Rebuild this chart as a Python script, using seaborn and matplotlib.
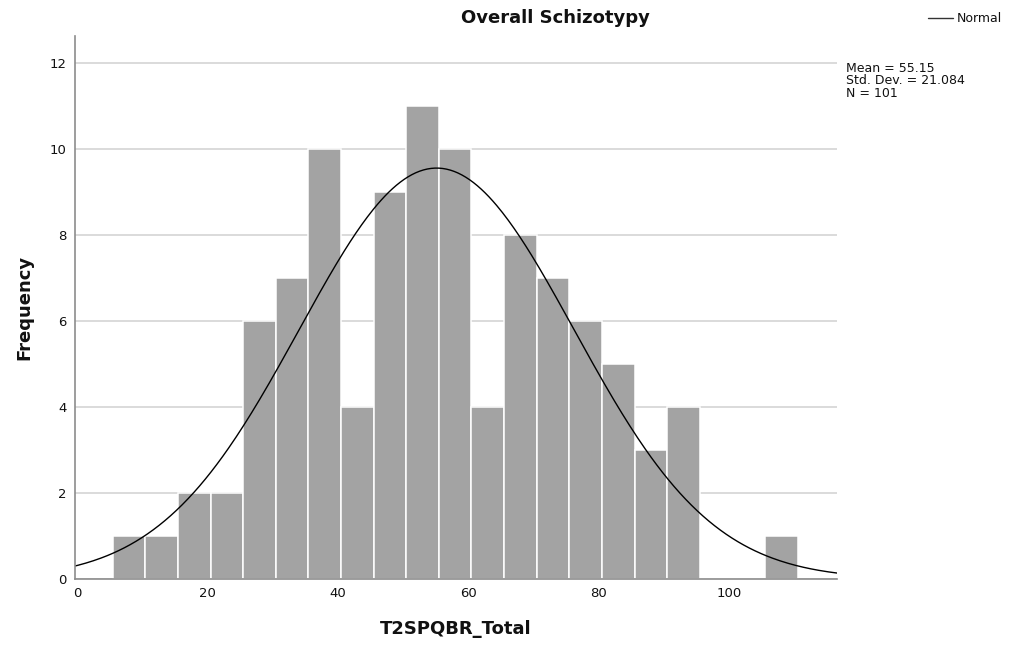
import numpy as np
import pandas as pd
import matplotlib
matplotlib.use("Agg")
import matplotlib.pyplot as plt
import seaborn as sns
from matplotlib.lines import Line2D

# Data
bin_edges = [5.5 + 5 * k for k in range(22)]
counts = [1, 1, 2, 2, 6, 7, 10, 4, 9, 11, 10, 4, 8, 7, 6, 5, 3, 4, 0, 0, 1]
mean_val = 55.15
sd_val = 21.084
n_val = 101
x_ticks = [0, 20, 40, 60, 80, 100]
y_ticks = [0, 2, 4, 6, 8, 10, 12]

centers = [(bin_edges[i] + bin_edges[i + 1]) / 2 for i in range(len(counts))]
df = pd.DataFrame({"score": centers, "freq": counts})

sns.set_style("white")
plt.rcParams["font.family"] = ["DejaVu Sans"]
plt.rcParams["text.color"] = "#111111"

fig = plt.figure(figsize=(10.13, 6.52), dpi=100)
ax = fig.add_axes([0.0743, 0.112, 0.7517, 0.833])

ax.set_axisbelow(True)
ax.yaxis.grid(True, color="#d4d4d4", linewidth=1.2)

sns.histplot(data=df, x="score", weights="freq", bins=bin_edges, ax=ax,
             color="#a3a3a3", alpha=1.0, edgecolor="white", linewidth=1.1)

xs = np.linspace(-1, 117, 400)
binw = bin_edges[1] - bin_edges[0]
ys = n_val * binw / (sd_val * np.sqrt(2 * np.pi)) * np.exp(-0.5 * ((xs - mean_val) / sd_val) ** 2)
sns.lineplot(x=xs, y=ys, ax=ax, color="black", linewidth=1.0)

ax.set_xlim(-0.25, 116.5)
ax.set_ylim(0, 12.63)
ax.set_xticks(x_ticks)
ax.set_yticks(y_ticks)
ax.tick_params(axis="both", labelsize=9.5, colors="#111111", length=0, pad=6)
for s in ["top", "right"]:
    ax.spines[s].set_visible(False)
for s in ["left", "bottom"]:
    ax.spines[s].set_color("#8c8c8c")
    ax.spines[s].set_linewidth(1.2)
    ax.spines[s].set_zorder(10)

ax.set_xlabel("T2SPQBR_Total", fontsize=13, fontweight="bold", labelpad=14, color="#111111")
ax.set_ylabel("Frequency", fontsize=13, fontweight="bold", labelpad=12, color="#111111")

fig.text(555 / 1013, 1 - 18 / 652, "Overall Schizotypy", fontsize=13, fontweight="bold",
         ha="center", va="center")

# Legend
leg = fig.legend(handles=[Line2D([0], [0], color="#333333", linewidth=1.0)], labels=["Normal"],
                 loc="center right", bbox_to_anchor=(1.0, 1 - 19 / 652), frameon=False,
                 fontsize=9, handlelength=2.0, handletextpad=0.3)

fig.text(846 / 1013, 1 - 81 / 652,
         f"Mean = {mean_val:.2f}\nStd. Dev. = {sd_val:.3f}\nN = {n_val}",
         fontsize=9, ha="left", va="center", linespacing=0.95)

fig.savefig("out.png", dpi=100)
